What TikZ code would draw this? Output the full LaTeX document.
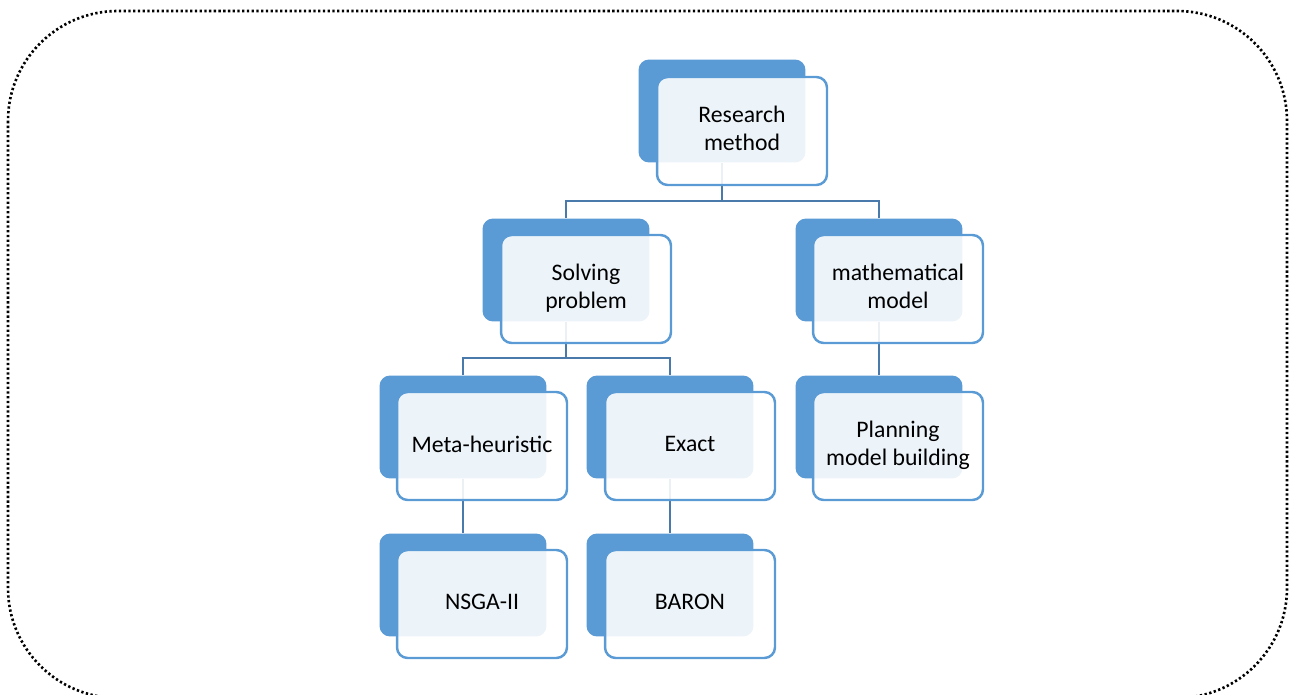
\documentclass[tikz,border=0pt]{standalone}
\usepackage{fontspec}
\setmainfont{Carlito}
\usetikzlibrary{positioning}

\definecolor{boxblue}{HTML}{5B9BD5}
\definecolor{linkblue}{HTML}{4A7AAB}

\tikzset{
  backbox/.style={draw=none, fill=boxblue, rounded corners=6pt,
    minimum width=3.34cm, minimum height=2.06cm, inner sep=0pt},
  frontbox/.style={draw=boxblue, line width=1.4pt, fill=white, fill opacity=0.89,
    draw opacity=1, text opacity=1, rounded corners=6pt, minimum width=3.4cm,
    minimum height=2.16cm, inner sep=0pt, align=center,
    font=\fontsize{13.5}{15.5}\selectfont},
  link/.style={draw=linkblue, line width=1.4pt},
  frame/.style={line width=1.5pt, dash pattern=on 1.3pt off 1.4pt, rounded corners=2.2cm}
}

\begin{document}
\begin{tikzpicture}[x=0.02cm, y=-0.02cm]

\useasboundingbox (0,0) rectangle (1291,695);
\begin{scope}
\clip (0,0) rectangle (1291,695);
\draw[frame] (8,11) rectangle (1287,698);
\end{scope}

% back boxes
\node[backbox] (rmB) at (722,111) {};
\node[backbox] (spB) at (566,270) {};
\node[backbox] (mmB) at (879,270) {};
\node[backbox] (mhB) at (463,427) {};
\node[backbox] (exB) at (670,427) {};
\node[backbox] (pbB) at (879,427) {};
\node[backbox] (nsB) at (463,585) {};
\node[backbox] (baB) at (670,585) {};

% connectors
\draw[link] (rmB.south) -- ++(0,38) coordinate (j1);
\draw[link] (j1) -| (spB.north);
\draw[link] (j1) -| (mmB.north);
\draw[link] (spB.south) -- ++(0,36) coordinate (j2);
\draw[link] (j2) -| (mhB.north);
\draw[link] (j2) -| (exB.north);
\draw[link] (mmB.south) -- (pbB.north);
\draw[link] (mhB.south) -- (nsB.north);
\draw[link] (exB.south) -- (baB.north);

% front boxes
\node[frontbox] (rm) at (742,131) {\raisebox{3pt}{\begin{tabular}{@{}c@{}}Research\\method\end{tabular}}};
\node[frontbox] (sp) at (586,289) {\raisebox{3pt}{\begin{tabular}{@{}c@{}}Solving\\problem\end{tabular}}};
\node[frontbox] (mm) at (898,289) {\raisebox{3pt}{\begin{tabular}{@{}c@{}}mathematical\\model\end{tabular}}};
\node[frontbox] (mh) at (482,446) {\raisebox{2pt}{Meta-heuristic}};
\node[frontbox] (ex) at (690,446) {\raisebox{2pt}{Exact}};
\node[frontbox] (pb) at (898,446) {\raisebox{3pt}{\begin{tabular}{@{}c@{}}Planning\\model building\end{tabular}}};
\node[frontbox] (ns) at (482,604) {\raisebox{2pt}{NSGA-II}};
\node[frontbox] (ba) at (690,604) {\raisebox{2pt}{BARON}};

\end{tikzpicture}
\end{document}
